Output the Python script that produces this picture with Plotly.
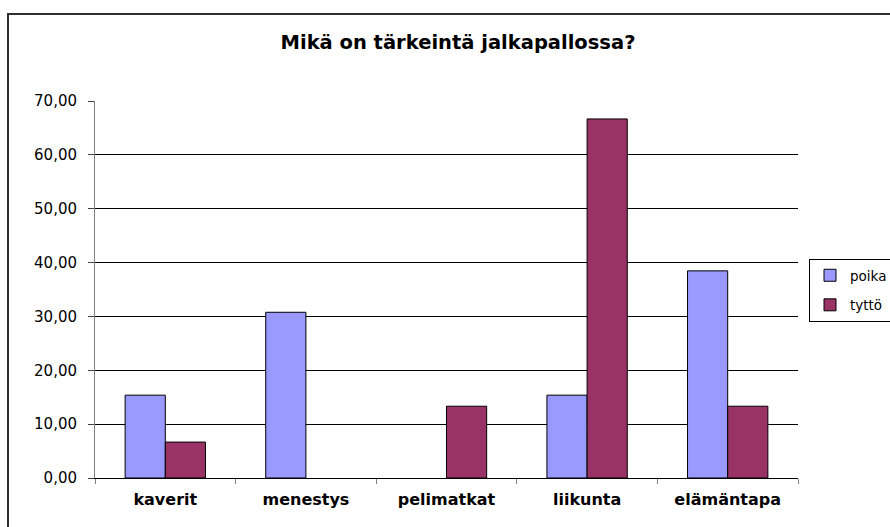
import plotly.graph_objects as go

categories = ["kaverit", "menestys", "pelimatkat", "liikunta", "elämäntapa"]
poika = [15.38, 30.77, None, 15.38, 38.46]
tytto = [6.67, None, 13.33, 66.67, 13.33]
series_names = ["poika", "tyttö"]
y_ticks = [0, 10, 20, 30, 40, 50, 60, 70]
title_text = "Mikä on tärkeintä jalkapallossa?"

fig = go.Figure()
fig.add_trace(go.Bar(
    x=categories, y=poika, name=series_names[0], legendgroup="a",
    marker=dict(color="#9999FF", line=dict(color="black", width=1)),
    hoverinfo="skip",
))
fig.add_trace(go.Bar(
    x=categories, y=tytto, name=series_names[1], legendgroup="b",
    marker=dict(color="#993366", line=dict(color="black", width=1)),
    hoverinfo="skip",
))

# plot area in px: x 95..798, y 101..478
PW, PH = 703, 377
def px_x(x):
    return (x - 95) / PW
def px_y(y):
    return (478 - y) / PH

fig.add_shape(type="rect", xref="paper", yref="paper",
              x0=px_x(8), x1=px_x(896), y0=px_y(536), y1=px_y(14),
              line=dict(color="#303030", width=2), fillcolor="rgba(0,0,0,0)",
              layer="above")

fig.update_layout(
    width=890, height=527,
    margin=dict(l=95, r=92, t=101, b=49, autoexpand=False),
    paper_bgcolor="white", plot_bgcolor="white",
    separators=",.",
    barmode="group", bargap=0.4286, bargroupgap=0,
    font=dict(family="DejaVu Sans", color="black"),
    title=dict(text="<b>" + title_text + "</b>", x=458/890, xref="container", xanchor="center",
               y=1 - 42/527, yref="container", yanchor="middle",
               font=dict(family="DejaVu Sans", size=19.5, color="black")),
    legend=dict(x=px_x(809), y=px_y(259), xanchor="left", yanchor="top",
                bordercolor="black", borderwidth=1, bgcolor="white",
                font=dict(family="DejaVu Sans", size=13.5, color="black"),
                tracegroupgap=9, traceorder="grouped"),
    showlegend=True,
)
fig.update_xaxes(
    type="category", showgrid=False, showline=True, linecolor="black", linewidth=1,
    ticks="outside", tickson="boundaries", ticklen=5, tickcolor="#808080",
    tickfont=dict(family="DejaVu Sans", size=16, color="black", weight="bold"),
    ticklabelstandoff=7, fixedrange=True,
)
fig.update_yaxes(
    range=[0, 70], tickmode="array", tickvals=y_ticks, tickformat=".2f",
    showgrid=True, gridcolor="black", gridwidth=1, zeroline=False,
    showline=True, linecolor="#808080", linewidth=1,
    ticks="outside", ticklen=6, tickcolor="#404040",
    tickfont=dict(family="DejaVu Sans", size=15, color="black"),
    ticklabelstandoff=8, fixedrange=True,
)

fig.write_html("out.html", config={"displayModeBar": False},
               post_script="document.body.style.margin='0';document.body.style.overflow='hidden';")
